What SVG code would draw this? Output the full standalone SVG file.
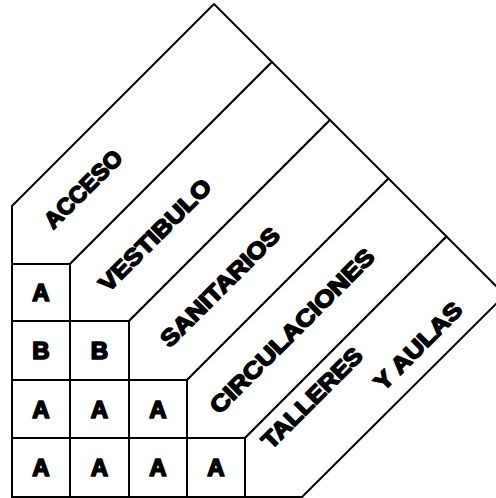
<svg xmlns="http://www.w3.org/2000/svg" width="496" height="498" viewBox="0 0 496 498">
<style>
.band{fill:#fff;stroke:#000;stroke-width:2;stroke-linejoin:round}
.cell{fill:#fff;stroke:#000;stroke-width:2}
.lbl{font-family:"Liberation Sans",Arial,sans-serif;font-weight:bold;font-size:23px;fill:#000;stroke:#000;stroke-width:1.6;stroke-linejoin:round;text-anchor:middle}
.cl{font-family:"Liberation Sans",Arial,sans-serif;font-weight:bold;font-size:24px;fill:#000;stroke:#000;stroke-width:1.7;stroke-linejoin:round;text-anchor:middle}
</style>
<rect width="496" height="498" fill="#fff"/>
<g id="acceso">
<polygon class="band" points="12,206 214,4 272,62 70,264 12,264"/>
<text class="lbl" x="83" y="189" dy="8" textLength="100" lengthAdjust="spacingAndGlyphs" transform="rotate(-45 83 189)">ACCESO</text>
</g>
<g id="vestibulo">
<polygon class="band" points="70,264 272,62 330,120 129,321 70,321"/>
<text class="lbl" x="155" y="235" dy="8" textLength="148" lengthAdjust="spacingAndGlyphs" transform="rotate(-45 155 235)">VESTIBULO</text>
</g>
<g id="sanitarios">
<polygon class="band" points="129,321 330,120 388.5,178.5 187,380 129,380"/>
<text class="lbl" x="220" y="287" dy="8" textLength="158" lengthAdjust="spacingAndGlyphs" transform="rotate(-45 220 287)">SANITARIOS</text>
</g>
<g id="circulaciones">
<polygon class="band" points="187,380 388.5,178.5 446.5,236.5 245,438 187,438"/>
<text class="lbl" x="292" y="331" dy="8" textLength="222" lengthAdjust="spacingAndGlyphs" transform="rotate(-45 292 331)">CIRCULACIONES</text>
</g>
<g id="talleres-y-aulas">
<polygon class="band" points="245,438 446.5,236.5 505,295 302,497 245,497"/>
<text class="lbl" x="312" y="398" dy="8" textLength="132" lengthAdjust="spacingAndGlyphs" transform="rotate(-45 312 398)">TALLERES</text>
<text class="lbl" x="418" y="346" dy="8" textLength="114" lengthAdjust="spacingAndGlyphs" transform="rotate(-45 418 346)">Y AULAS</text>
</g>
<g id="cell-2-1"><rect class="cell" x="12" y="264" width="58" height="57"/><text class="cl" x="41" y="301">A</text></g>
<g id="cell-3-1"><rect class="cell" x="12" y="321" width="58" height="59"/><text class="cl" x="41" y="359">B</text></g>
<g id="cell-3-2"><rect class="cell" x="70" y="321" width="59" height="59"/><text class="cl" x="99.5" y="359">B</text></g>
<g id="cell-4-1"><rect class="cell" x="12" y="380" width="58" height="58"/><text class="cl" x="41" y="418">A</text></g>
<g id="cell-4-2"><rect class="cell" x="70" y="380" width="59" height="58"/><text class="cl" x="99.5" y="418">A</text></g>
<g id="cell-4-3"><rect class="cell" x="129" y="380" width="58" height="58"/><text class="cl" x="158" y="418">A</text></g>
<g id="cell-5-1"><rect class="cell" x="12" y="438" width="58" height="59"/><text class="cl" x="41" y="476">A</text></g>
<g id="cell-5-2"><rect class="cell" x="70" y="438" width="59" height="59"/><text class="cl" x="99.5" y="476">A</text></g>
<g id="cell-5-3"><rect class="cell" x="129" y="438" width="58" height="59"/><text class="cl" x="158" y="476">A</text></g>
<g id="cell-5-4"><rect class="cell" x="187" y="438" width="58" height="59"/><text class="cl" x="216" y="476">A</text></g>
<g id="connectors"></g>
</svg>
